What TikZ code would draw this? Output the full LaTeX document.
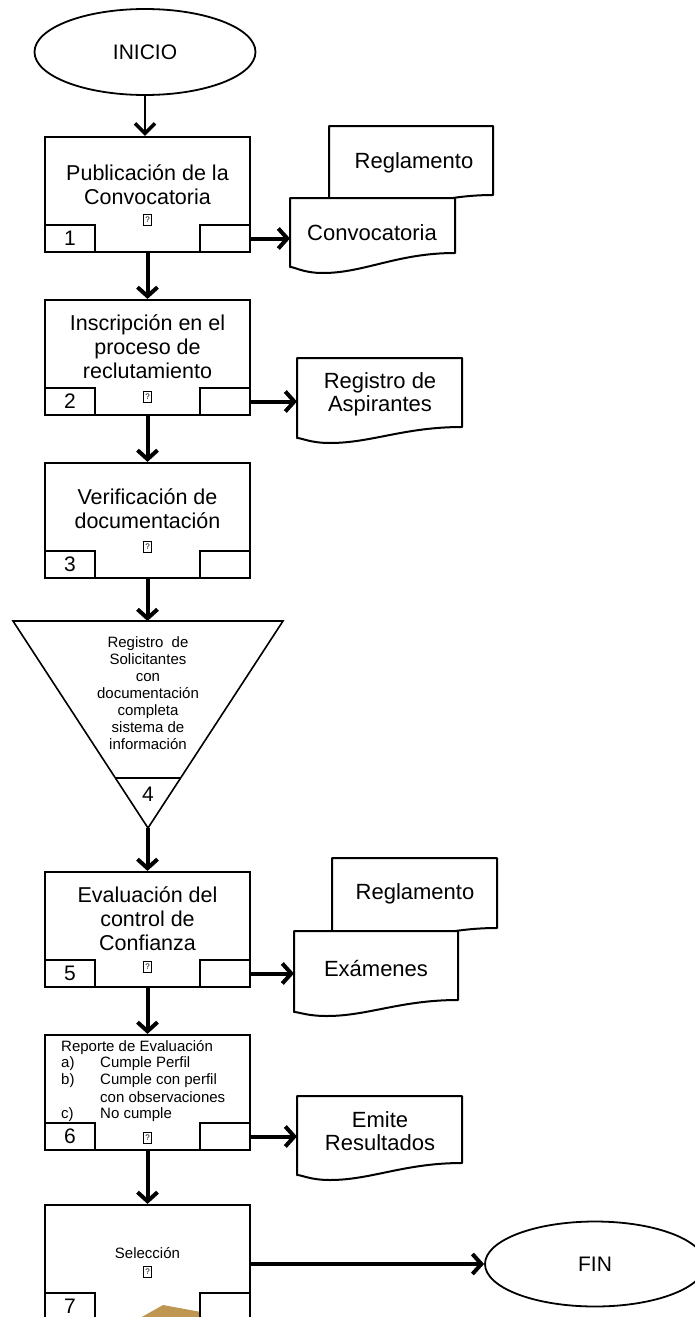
\documentclass[tikz,border=0pt]{standalone}
\usepackage{fontspec}
\setmainfont{Liberation Sans}
\usetikzlibrary{arrows.meta,shapes.geometric}
\definecolor{tanfill}{RGB}{190,150,82}
\newcommand\docshape[6]{%
\draw[docline] (#1,#2) -- (#3,#2) -- (#3,#4)
  .. controls ({#3-0.35*(#3-#1)},#4) and ({#1+0.45*(#3-#1)},#6) .. ({#1+0.2*(#3-#1)},#6)
  .. controls ({#1+0.08*(#3-#1)},#6) and ({#1+0.03*(#3-#1)},#5) .. (#1,#5) -- cycle;}
\begin{document}
\begin{tikzpicture}[x=1pt,y=-1pt,
  box/.style={draw,line width=2.2pt,minimum width=205pt,minimum height=115pt,inner sep=0pt,fill=white},
  sub/.style={draw,line width=2.2pt,minimum width=50pt,minimum height=27pt,inner sep=0pt,fill=white,font=\fontsize{21}{21}\selectfont},
  btext/.style={align=center,inner sep=0pt,font=\fontsize{21.5}{24}\selectfont},
  dtext/.style={align=center,inner sep=0pt,font=\fontsize{22}{23}\selectfont},
  stext/.style={align=center,inner sep=0pt,font=\fontsize{15}{17}\selectfont},
  ltext/.style={anchor=west,inner sep=0pt,text height=11pt,text depth=3pt,font=\fontsize{15}{17}\selectfont},
  qbox/.style={draw,line width=0.7pt,minimum width=8pt,minimum height=11pt,inner sep=0pt,font=\fontsize{8}{8}\selectfont},
  term/.style={draw,ellipse,line width=1.8pt,inner sep=0pt,font=\fontsize{21}{21}\selectfont},
  docline/.style={draw,line width=2pt,fill=white,line join=round},
  arr/.style={line width=4pt,-{Straight Barb[length=9pt,width=20pt]}},
  tarr/.style={line width=2pt,-{Straight Barb[length=10pt,width=20pt,line width=3.5pt]}}
]
\useasboundingbox (0,0) rectangle (695,1317);
\clip (0,0) rectangle (695,1317);
\fill[white] (0,0) rectangle (695,1317);

% terminals
\node[term,minimum width=221pt,minimum height=86pt] (inicio) at (145,52) {INICIO};
\node[term,minimum width=220pt,minimum height=85pt] (fin) at (595,1264) {FIN};

% process 1
\node[box] (p1) at (147.5,194.5) {};
\node[btext] (t1) at (147.5,185) {Publicación de la\\Convocatoria};
\node[qbox] (q1) at (147.5,220) {?};
\node[sub,anchor=south west] (n1) at (p1.south west) {1};
\node[sub,anchor=south east] (r1) at (p1.south east) {};

% process 2
\node[box] (p2) at (147.5,357.5) {};
\node[btext] (t2) at (147.5,347) {Inscripción en el\\proceso de\\reclutamiento};
\node[qbox] (q2) at (147.5,397) {?};
\node[sub,anchor=south west] (n2) at (p2.south west) {2};
\node[sub,anchor=south east] (r2) at (p2.south east) {};

% process 3
\node[box] (p3) at (147.5,520.5) {};
\node[btext] (t3) at (147.5,509) {Verificación de\\documentación};
\node[qbox] (q3) at (147.5,547) {?};
\node[sub,anchor=south west] (n3) at (p3.south west) {3};
\node[sub,anchor=south east] (r3) at (p3.south east) {};

% triangle 4
\draw[line width=1.6pt,line join=miter] (13,621) -- (283,621) -- (148,828) -- cycle;
\draw[line width=1.6pt] (115.5,778) -- (180.5,778);
\coordinate (tritop) at (147.5,621);
\coordinate (tribot) at (147.5,828);
\node[stext] (t4) at (148,693) {Registro~ de\\Solicitantes\\con\\documentación\\completa\\sistema de\\información};
\node[inner sep=0pt,font=\fontsize{21}{21}\selectfont] (n4) at (148,794) {4};

% process 5
\node[box] (p5) at (147.5,929.5) {};
\node[btext] (t5) at (147.5,919) {Evaluación del\\control de\\Confianza};
\node[qbox] (q5) at (147.5,967) {?};
\node[sub,anchor=south west] (n5) at (p5.south west) {5};
\node[sub,anchor=south east] (r5) at (p5.south east) {};

% process 6
\node[box] (p6) at (147.5,1092.5) {};
\node[ltext] (l61) at (61,1047) {Reporte de Evaluación};
\node[ltext] (l62a) at (61,1063) {a)};
\node[ltext] (l62) at (100,1063) {Cumple Perfil};
\node[ltext] (l63a) at (61,1080) {b)};
\node[ltext] (l63) at (100,1080) {Cumple con perfil};
\node[ltext] (l64) at (100,1098) {con observaciones};
\node[ltext] (l65a) at (61,1114) {c)};
\node[ltext] (l65) at (100,1114) {No cumple};
\node[qbox] (q6) at (147.5,1138) {?};
\node[sub,anchor=south west] (n6) at (p6.south west) {6};
\node[sub,anchor=south east] (r6) at (p6.south east) {};

% process 7
\node[box] (p7) at (147.5,1262.5) {};
\node[stext] (t7) at (147.5,1253) {Selección};
\node[qbox] (q7) at (147.5,1272) {?};
\fill[tanfill] (140,1318) -- (163,1305) -- (201,1312) -- (201,1318) -- cycle;
\node[sub,anchor=south west] (n7) at (p7.south west) {7};
\node[sub,anchor=south east] (r7) at (p7.south east) {};

% documents
\docshape{329}{126}{493}{195}{207}{213}
\node[dtext] (regl1) at (414,163) {Reglamento};
\docshape{290}{198}{455}{253}{267}{273}
\node[dtext] (conv) at (372,233) {Convocatoria};
\coordinate (convL) at (290,239);

\docshape{297}{358}{462}{427}{438}{443}
\node[dtext] (regasp) at (380,394.5) {Registro de\\Aspirantes};
\coordinate (regaspL) at (297,402);

\docshape{332}{858}{497}{928}{940}{945}
\node[dtext] (regl2) at (415,894) {Reglamento};
\docshape{294}{931}{458}{1000}{1012}{1016}
\node[dtext] (exam) at (376,968) {Exámenes};
\coordinate (examL) at (294,973);

\docshape{297}{1096}{462}{1163}{1175}{1180}
\node[dtext] (emite) at (380,1131.5) {Emite\\Resultados};
\coordinate (emiteL) at (297,1137);

% connectors
\draw[tarr] (inicio.south) -- (inicio.south |- p1.north);
\draw[arr] (p1.south) -- (p2.north);
\draw[arr] (p2.south) -- (p3.north);
\draw[arr] (p3.south) -- (tritop);
\draw[arr] (tribot) -- (p5.north);
\draw[arr] (p5.south) -- (p6.north);
\draw[arr] (p6.south) -- (p7.north);
\draw[arr] (r1.east) -- (r1.east -| convL);
\draw[arr] (r2.east) -- (r2.east -| regaspL);
\draw[arr] (r5.east) -- (r5.east -| examL);
\draw[arr] (r6.east) -- (r6.east -| emiteL);
\draw[arr] (p7.east |- fin.west) -- (fin.west);
\end{tikzpicture}
\end{document}
